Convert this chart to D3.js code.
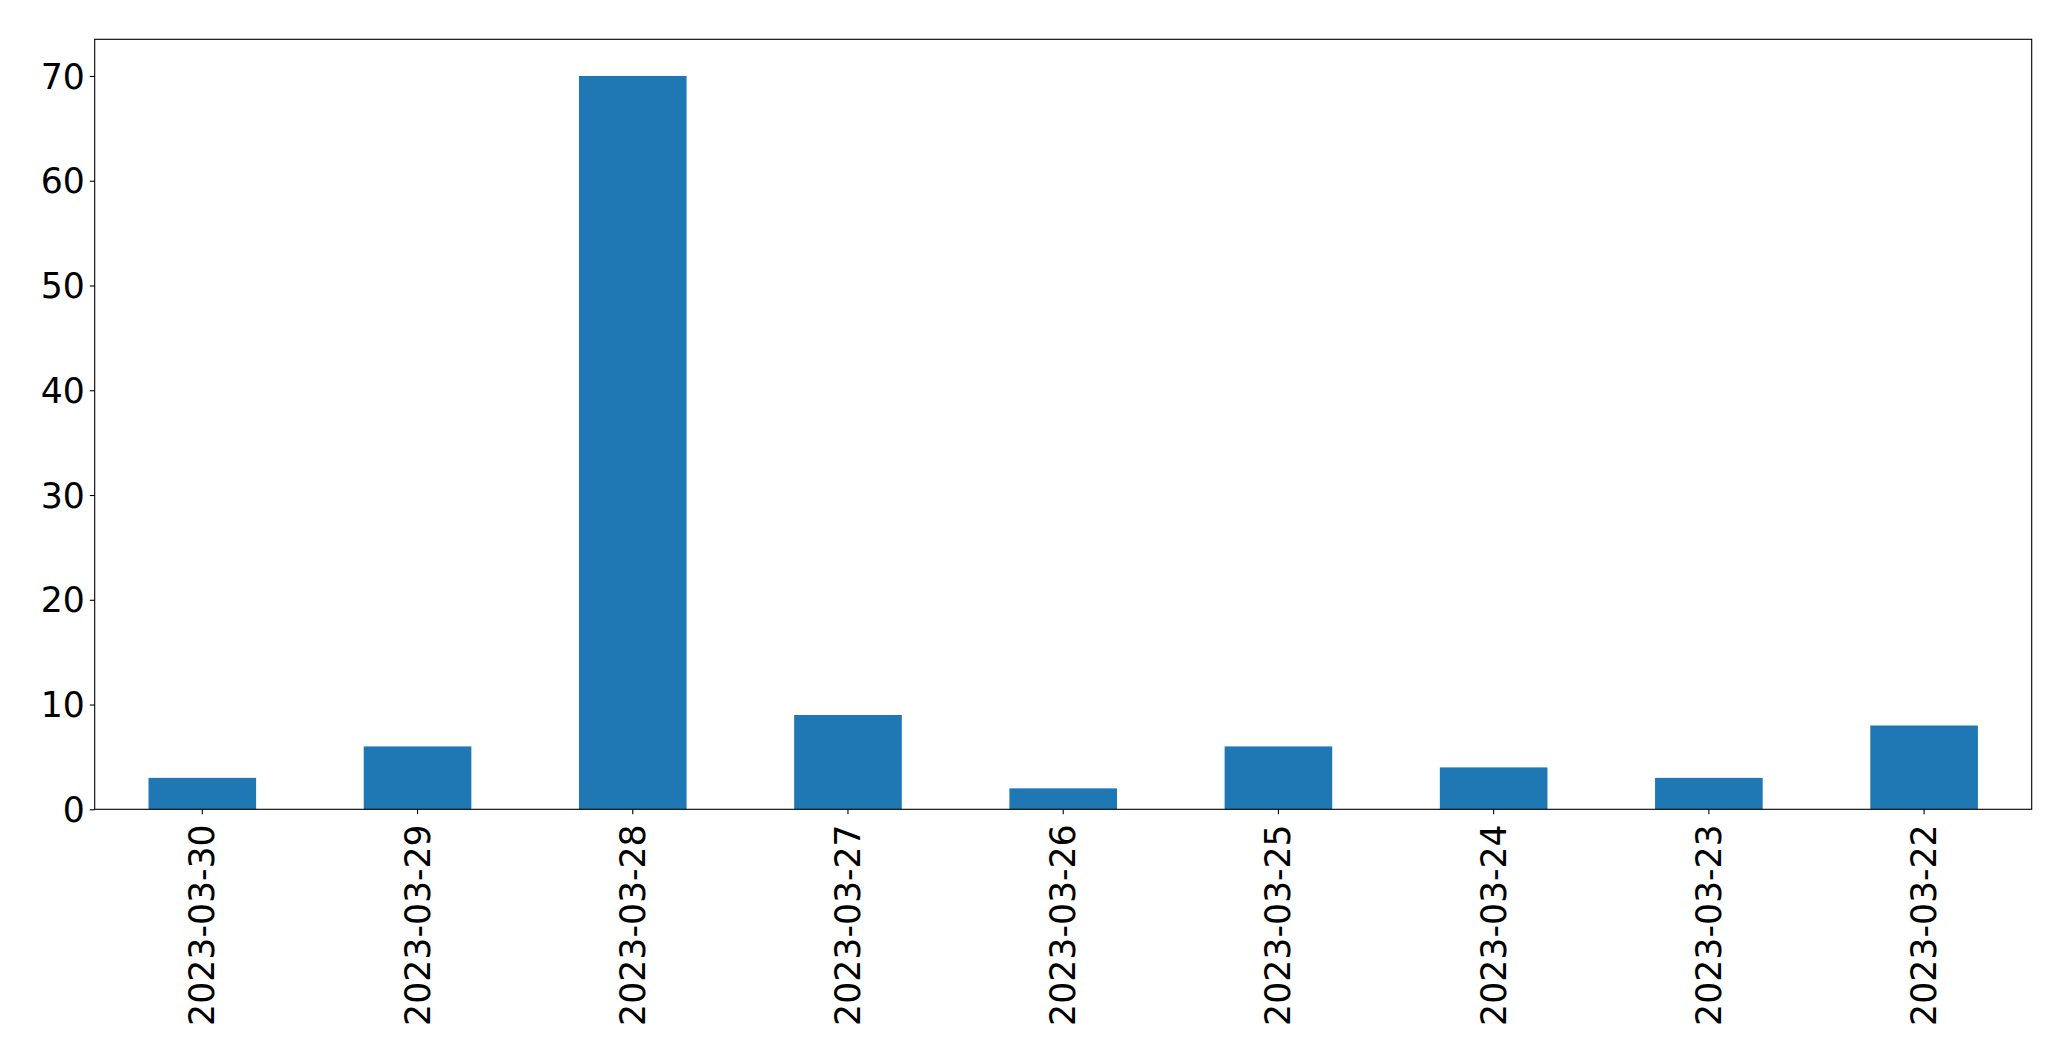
<!DOCTYPE html>
<html><head><meta charset="utf-8">
<script src="https://cdn.jsdelivr.net/npm/d3@7"></script>
<style>
body{margin:0;background:#fff;}
svg{display:block;}
text{font-family:"DejaVu Sans",sans-serif;}
</style></head>
<body>
<script>
const categories = ["2023-03-30","2023-03-29","2023-03-28","2023-03-27","2023-03-26","2023-03-25","2023-03-24","2023-03-23","2023-03-22"];
const values = [3, 6, 70, 9, 2, 6, 4, 3, 8];
const yTicks = [0, 10, 20, 30, 40, 50, 60, 70];

const W = 2071, H = 1061;
const m = {left: 94.7, right: 2031.7, top: 39.3, bottom: 809.3};
const fs = 34.7;

const svg = d3.select("body").append("svg").attr("width", W).attr("height", H);

const x = d3.scaleBand().domain(categories).range([m.left, m.right]).paddingInner(0.5).paddingOuter(0.25);
const y = d3.scaleLinear().domain([0, 73.5]).range([m.bottom, m.top]);

svg.append("g").selectAll("rect").data(values).join("rect")
  .attr("x", (d,i) => x(categories[i]))
  .attr("width", x.bandwidth())
  .attr("y", d => y(d))
  .attr("height", d => y(0) - y(d))
  .attr("fill", "#1f77b4");

// frame
svg.append("rect").attr("x", m.left).attr("y", m.top)
  .attr("width", m.right - m.left).attr("height", m.bottom - m.top)
  .attr("fill", "none").attr("stroke", "#000").attr("stroke-width", 1.1);

const yAxis = svg.append("g").attr("transform", `translate(${m.left},0)`)
  .call(d3.axisLeft(y).tickValues(yTicks).tickSize(4.9).tickPadding(4.9).tickFormat(d3.format("d")));
yAxis.select(".domain").remove();
yAxis.selectAll(".tick line").attr("stroke", "#000").attr("stroke-width", 1.1);
yAxis.selectAll(".tick text").attr("font-size", fs).attr("fill", "#000")
  .attr("font-family", "DejaVu Sans").attr("dy", "0.35em");

const xAxis = svg.append("g").attr("transform", `translate(0,${m.bottom})`)
  .call(d3.axisBottom(x).tickSize(4.9).tickPadding(0));
xAxis.select(".domain").remove();
xAxis.selectAll(".tick line").attr("stroke", "#000").attr("stroke-width", 1.1);
xAxis.selectAll(".tick text")
  .attr("font-size", fs).attr("fill", "#000").attr("font-family", "DejaVu Sans")
  .attr("text-anchor", "end").attr("dy", null).attr("y", null)
  .attr("dominant-baseline", "central")
  .attr("transform", "translate(0,15) rotate(-90)");
</script>
</body></html>
